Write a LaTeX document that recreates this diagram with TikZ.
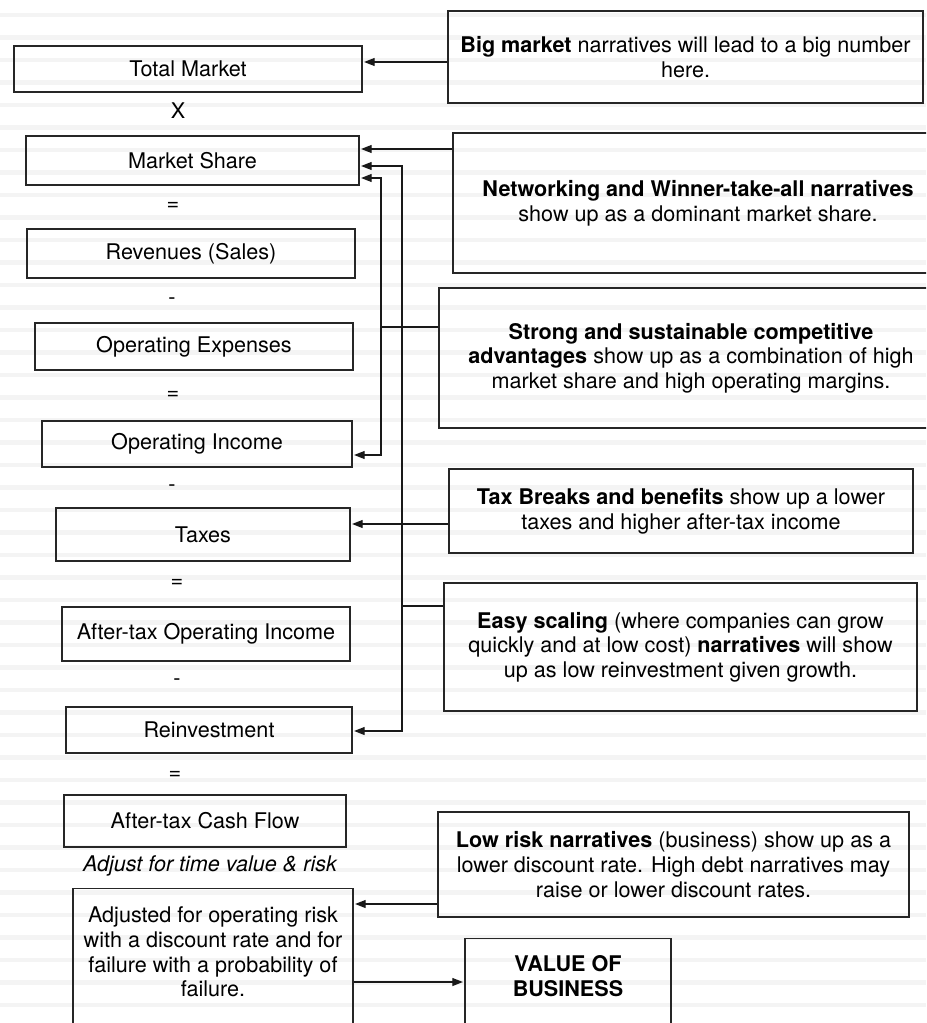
\documentclass[tikz,border=0pt]{standalone}
\usepackage{fontspec}
\setmainfont{TeX Gyre Heros}
\usetikzlibrary{arrows.meta}
\begin{document}
\begin{tikzpicture}[x=0.75pt,y=-0.75pt,
  box/.style={draw=black!85, line width=1.1pt, inner sep=0pt, align=center, font=\fontsize{16.2}{18.5}\selectfont},
  lbl/.style={inner sep=0pt, align=center, font=\fontsize{16.2}{18.5}\selectfont},
  conn/.style={draw=black!90, line width=0.95pt},
  arr/.style={conn, -{Triangle[length=8pt,width=6pt]}, shorten >=1pt}]
\useasboundingbox (0,0) rectangle (926,1023);
\clip (0,0) rectangle (926,1023);
\foreach \i in {0,...,45} \draw[gray!9, line width=3.6pt] (0,15+22.5*\i) -- (926,15+22.5*\i);

% left column
\node[box, minimum width=261pt, minimum height=34.5pt] (tm) at (188,69) {Total Market};
\node[lbl] (op1) at (178,111) {X};
\node[box, minimum width=249.75pt, minimum height=36.75pt] (ms) at (192.5,160.5) {Market Share};
\node[lbl] (op2) at (173,206) {=};
\node[box, minimum width=246pt, minimum height=36.75pt] (rev) at (191,253.5) {Revenues (Sales)};
\node[lbl] (op3) at (172,301) {-};
\node[box, minimum width=238.5pt, minimum height=35.25pt] (opex) at (194,346.5) {Operating Expenses};
\node[lbl] (op4) at (173,395) {=};
\node[box, minimum width=232.5pt, minimum height=34.5pt] (oi) at (197,444) {Operating Income};
\node[lbl] (op5) at (172,488) {-};
\node[box, minimum width=220.5pt, minimum height=39.75pt] (tax) at (203,534.5) {Taxes};
\node[lbl] (op6) at (177,583) {=};
\node[box, minimum width=216pt, minimum height=40.5pt] (atoi) at (206,634) {After-tax Operating Income};
\node[lbl] (op7) at (177,682) {-};
\node[box, minimum width=214.5pt, minimum height=34.5pt] (reinv) at (209,730) {Reinvestment};
\node[lbl] (op8) at (175,775) {=};
\node[box, minimum width=211.5pt, minimum height=39pt] (atcf) at (205,821) {After-tax Cash Flow};
\node[lbl, font=\fontsize{16.2}{18.5}\selectfont\itshape] (adjlbl) at (210,866) {Adjust for time value \& risk};
\node[box, minimum width=210pt, minimum height=117.75pt, anchor=north] (adj) at (213,888) {};
\node[lbl] (adjt) at (213,952) {Adjusted for operating risk\\with a discount rate and for\\failure with a probability of\\failure.};
\node[box, minimum width=154.5pt, minimum height=82.5pt, anchor=north] (val) at (568,938) {};
\node[lbl, font=\fontsize{16.2}{18.5}\selectfont\bfseries] (valt) at (568,976) {VALUE OF\\BUSINESS};

% right column
\node[box, minimum width=356.25pt, minimum height=69pt] (big) at (685.5,57) {\textbf{Big market} narratives will lead to a big number\\here.};
\node[box, minimum width=367.5pt, minimum height=105pt] (net) at (698,203) {\textbf{Networking and Winner-take-all narratives}\\show up as a dominant market share.};
\node[box, minimum width=378pt, minimum height=105pt] (strong) at (691,358) {\textbf{Strong and sustainable competitive}\\\textbf{advantages} show up as a combination of high\\market share and high operating margins.};
\node[box, minimum width=348pt, minimum height=63pt] (taxb) at (681,511) {\textbf{Tax Breaks and benefits} show up a lower\\taxes and higher after-tax income};
\node[box, minimum width=354.75pt, minimum height=96pt] (easy) at (680.5,647) {\textbf{Easy scaling} (where companies can grow\\quickly and at low cost) \textbf{narratives} will show\\up as low reinvestment given growth.};
\node[box, minimum width=353.25pt, minimum height=78.75pt] (low) at (673.5,864.5) {\textbf{Low risk narratives} (business) show up as a\\lower discount rate. High debt narratives may\\raise or lower discount rates.};

% connectors
\draw[arr] (big.west |- 0,62) -- (tm.east |- 0,62);
\draw[arr] (net.west |- 0,149) -- (ms.east |- 0,149);
\coordinate (ja) at (402,606);
\draw[conn] (easy.west |- ja) -- (ja);
\draw[arr] (ja) |- (ms.east |- 0,166);
\draw[arr] (ja) |- (reinv.east |- 0,731);
\coordinate (jb) at (381,327);
\draw[conn] (strong.west |- jb) -- (jb);
\draw[arr] (jb) |- (ms.east |- 0,178);
\draw[arr] (jb) |- (oi.east |- 0,455);
\draw[arr] (taxb.west |- 0,524) -- (tax.east |- 0,524);
\draw[arr] (low.west |- 0,904) -- (adj.east |- 0,904);
\draw[arr] (adj.east |- 0,982) -- (val.west |- 0,982);
\end{tikzpicture}
\end{document}
